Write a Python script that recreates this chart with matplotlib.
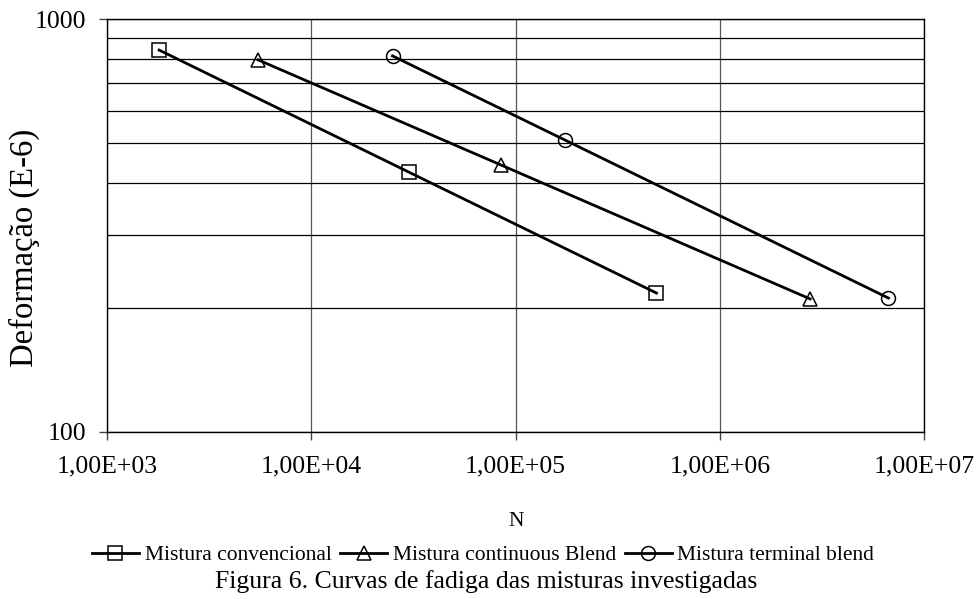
import matplotlib
matplotlib.use("Agg")
import matplotlib.pyplot as plt
from matplotlib.ticker import FixedLocator, NullFormatter

plt.rcParams["font.family"] = ["Liberation Serif", "DejaVu Serif"]

# ciclos (N) e deformacao (E-6)
n_convencional = [1800, 30000, 490000]
def_convencional = [841, 426, 217]

n_continuous = [5500, 85000, 2770000]
def_continuous = [796, 443, 210]

n_terminal = [25000, 175000, 6700000]
def_terminal = [814, 509, 211]

x_ticks = [1e3, 1e4, 1e5, 1e6, 1e7]
x_tick_labels = ["1,00E+03", "1,00E+04", "1,00E+05", "1,00E+06", "1,00E+07"]
y_ticks = [100, 1000]
y_tick_labels = ["100", "1000"]
y_grid = [200, 300, 400, 500, 600, 700, 800, 900]

fig = plt.figure(figsize=(9.78, 5.99), dpi=100)
ax = fig.add_axes([107 / 978, 1 - 432 / 599, 817 / 978, 413 / 599])

style = dict(color="black", linewidth=2.0, markersize=10,
             markeredgewidth=1.1, fillstyle="none")
ax.plot(n_convencional, def_convencional, marker="s",
        label="Mistura convencional", **style)
ax.plot(n_continuous, def_continuous, marker="^",
        label="Mistura continuous Blend", **style)
ax.plot(n_terminal, def_terminal, marker="o",
        label="Mistura terminal blend", **style)

ax.set_xscale("log")
ax.set_yscale("log")
ax.set_xlim(1e3, 1e7)
ax.set_ylim(100, 1000)

ax.set_xticks(x_ticks)
ax.set_xticklabels(x_tick_labels)
ax.xaxis.set_minor_locator(FixedLocator([]))
ax.set_yticks(y_ticks)
ax.set_yticklabels(y_tick_labels)
ax.yaxis.set_minor_locator(FixedLocator(y_grid))
ax.yaxis.set_minor_formatter(NullFormatter())

ax.tick_params(axis="both", which="major", direction="out", length=6,
               width=1, color="#444444", labelsize=18.5)
ax.tick_params(axis="x", which="major", pad=11)
ax.tick_params(axis="y", which="major", pad=9)
ax.tick_params(axis="y", which="minor", length=0)

ax.grid(True, axis="x", which="major", color="#555555", linewidth=0.9)
ax.grid(True, axis="y", which="both", color="black", linewidth=0.9)

for spine in ax.spines.values():
    spine.set_color("black")
    spine.set_linewidth(1.0)

fig.text(24 / 978, 1 - 248 / 599, "Deformação (E-6)", rotation=90,
         ha="center", va="center", fontsize=23.5)
fig.text(516 / 978, 1 - 522 / 599, "N", ha="center", va="center", fontsize=15.5)

fig.legend(loc="center", bbox_to_anchor=(483 / 978, 1 - 555 / 599), ncol=3,
           frameon=False, fontsize=15.5, handlelength=2.2, handletextpad=0.25,
           columnspacing=0.4, borderpad=0)

fig.text(486 / 978, 1 - 582 / 599,
         "Figura 6. Curvas de fadiga das misturas investigadas",
         ha="center", va="center", fontsize=18.5)

fig.savefig("out.png", dpi=100)
